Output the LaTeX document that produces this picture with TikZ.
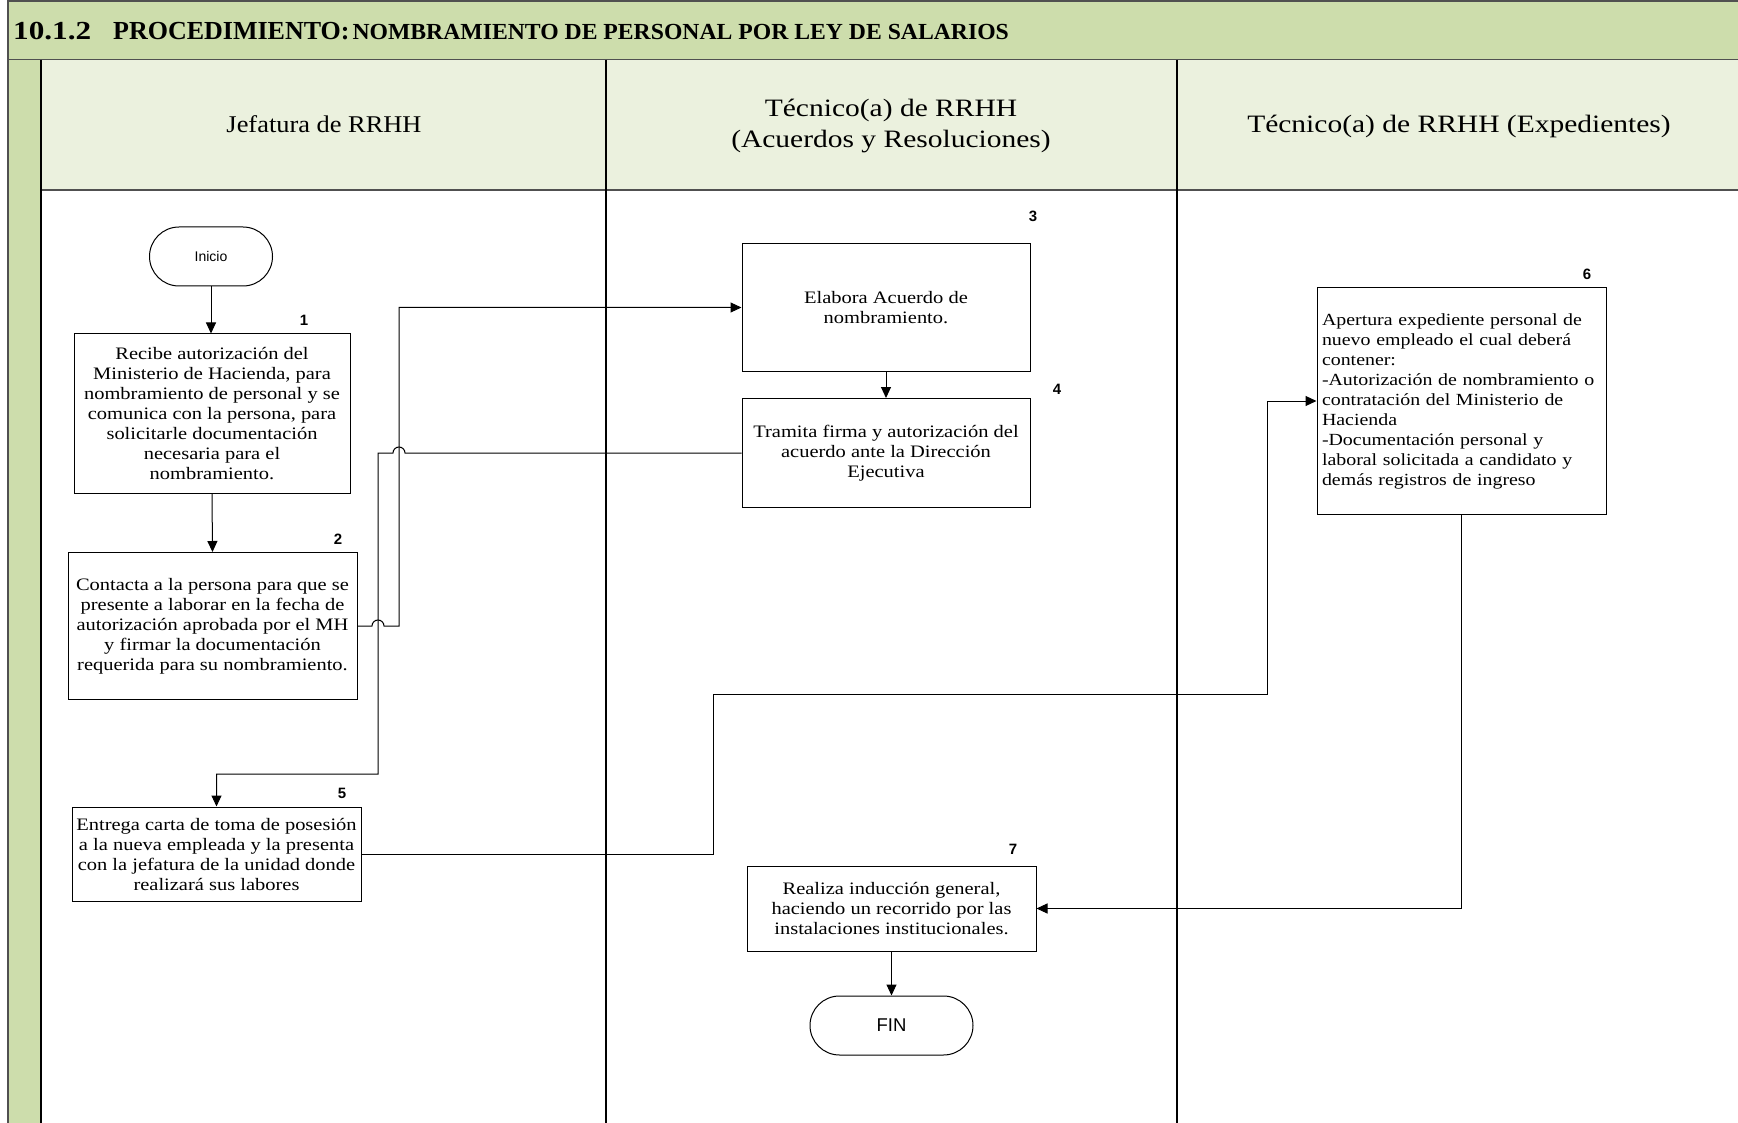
\documentclass[tikz,border=0pt]{standalone}
\usepackage{fontspec}
\setmainfont[FakeStretch=1.17]{Liberation Serif}
\newfontfamily\titlea[FakeStretch=1.2]{Liberation Serif}
\newfontfamily\titleb[FakeStretch=1.0]{Liberation Serif}
\newfontfamily\titlec[FakeStretch=1.03]{Liberation Serif}
\newfontfamily\headf[FakeStretch=1.18]{Liberation Serif}
\newfontfamily\headjf[FakeStretch=1.1]{Liberation Serif}
\newfontfamily\arialf{Liberation Sans}
\usetikzlibrary{arrows.meta,shapes.misc}
\definecolor{titlegreen}{RGB}{205,221,172}
\definecolor{headgreen}{RGB}{235,241,222}
\definecolor{bordergray}{RGB}{80,80,80}
\tikzset{
  procbox/.style={draw=black,line width=1pt,fill=white,align=center,inner sep=3pt,
    font=\fontsize{17.5}{20}\selectfont},
  termbox/.style={draw=black,line width=1pt,rounded rectangle,fill=white,inner sep=2pt},
  numlabel/.style={font=\arialf\bfseries\fontsize{15}{15}\selectfont},
  arr/.style={line width=1pt,-{Triangle[length=11pt,width=10pt]}},
  lane/.style={line width=1.2pt,black},
  headtext/.style={font=\headf\fontsize{25}{31}\selectfont,align=center}
}
\begin{document}
\begin{tikzpicture}[x=1pt,y=-1pt]
\useasboundingbox (0,0) rectangle (1738,1123);
% title band
\fill[titlegreen] (8,1) rectangle (1738,60);
\draw[bordergray,line width=1.2pt] (8,1123) -- (8,1) -- (1738,1);
\draw[bordergray,line width=1.5pt] (8,60) -- (1738,60);
\node[anchor=base west,inner sep=0pt,font=\bfseries] (title) at (13,40)
  {{\titlea\bfseries\fontsize{26}{28}\selectfont 10.1.2}\hspace{22pt}{\titleb\bfseries\fontsize{26}{28}\selectfont PROCEDIMIENTO:}
   {\titlec\bfseries\fontsize{23}{26}\selectfont NOMBRAMIENTO DE PERSONAL POR LEY DE SALARIOS}};
% header row and left strip
\fill[headgreen] (41,60) rectangle (1738,190);
\fill[titlegreen] (8,60) rectangle (41,1123);
\draw[bordergray,line width=1.5pt] (41,190) -- (1738,190);
\draw[lane] (41,60) -- (41,1123);
\draw[lane] (606,60) -- (606,1123);
\draw[lane] (1177,60) -- (1177,1123);
\draw[bordergray,line width=1.2pt] (8,60) -- (8,1123);
\node[headtext,font=\headjf\fontsize{24}{31}\selectfont] (h1) at (324,124) {Jefatura de RRHH};
\node[headtext] (h2) at (891,126) {Técnico(a) de RRHH\\(Acuerdos y Resoluciones)};
\node[headtext] (h3) at (1459,126) {Técnico(a) de RRHH (Expedientes)};
% nodes
\node[termbox,minimum width=127pt,minimum height=59pt,font=\arialf\fontsize{14}{16}\selectfont] (ini) at (211,256.5) {Inicio};
\node[procbox,minimum width=276pt,minimum height=159pt] (b1) at (212,413.5)
  {Recibe autorización del\\Ministerio de Hacienda, para\\nombramiento de personal y se\\comunica con la persona, para\\solicitarle documentación\\necesaria para el\\nombramiento.};
\node[numlabel] (n1) at (304,320) {1};
\node[procbox,minimum width=289pt,minimum height=147pt] (b2) at (212.5,626)
  {Contacta a la persona para que se\\presente a laborar en la fecha de\\autorización aprobada por el MH\\y firmar la documentación\\requerida para su nombramiento.};
\node[numlabel] (n2) at (338,539) {2};
\node[procbox,minimum width=288pt,minimum height=127pt] (b3) at (886,307.5)
  {Elabora Acuerdo de\\nombramiento.};
\node[numlabel] (n3) at (1033,216) {3};
\node[procbox,minimum width=288pt,minimum height=109pt] (b4) at (886,453)
  {Tramita firma y autorización del\\acuerdo ante la Dirección\\Ejecutiva};
\node[numlabel] (n4) at (1057,389) {4};
\node[procbox,minimum width=289pt,minimum height=94pt] (b5) at (216.5,854)
  {Entrega carta de toma de posesión\\a la nueva empleada y la presenta\\con la jefatura de la unidad donde\\realizará sus labores};
\node[numlabel] (n5) at (342,793) {5};
\node[procbox,minimum width=289pt,minimum height=226pt,text width=279pt,align=left,inner sep=5pt,
  font=\fontsize{17}{20}\selectfont] (b6) at (1461.5,401)
  {Apertura expediente personal de\\nuevo empleado el cual deberá\\contener:\\-Autorización de nombramiento o\\contratación del Ministerio de\\Hacienda\\-Documentación personal y\\laboral solicitada a candidato y\\demás registros de ingreso};
\node[numlabel] (n6) at (1587,274) {6};
\node[procbox,minimum width=289pt,minimum height=85pt] (b7) at (891.5,908.5)
  {Realiza inducción general,\\haciendo un recorrido por las\\instalaciones institucionales.};
\node[numlabel] (n7) at (1013,849) {7};
\node[termbox,minimum width=167pt,minimum height=59pt,font=\arialf\fontsize{18.5}{20}\selectfont] (fin) at (891.5,1025.5) {FIN};
% turning points
\coordinate (v1) at (399,626);
\coordinate (v2) at (378,453);
\coordinate (v3) at (378,774);
\coordinate (v4) at (713,854);
\coordinate (v5) at (713,694);
\coordinate (v6) at (1267,694);
% connectors
\draw[arr] (ini.south) -- (ini.south |- b1.north);
\draw[arr] (b1.south) -- (b2.north);
\draw[arr] (b2.east) -- (372,626) arc[start angle=180,end angle=360,radius=6] -- (v1) |- (b3.west);
\draw[arr] (b3.south) -- (b4.north);
\draw[arr] (b4.west) -- (405,453) arc[start angle=0,end angle=-180,radius=6] -- (v2) -- (v3) -| (b5.north);
\draw[arr] (b5.east) -- (v4) -- (v5) -- (v6) |- (b6.west);
\draw[arr] (b6.south) |- (b7.east);
\draw[arr] (b7.south) -- (fin.north);
\end{tikzpicture}
\end{document}
